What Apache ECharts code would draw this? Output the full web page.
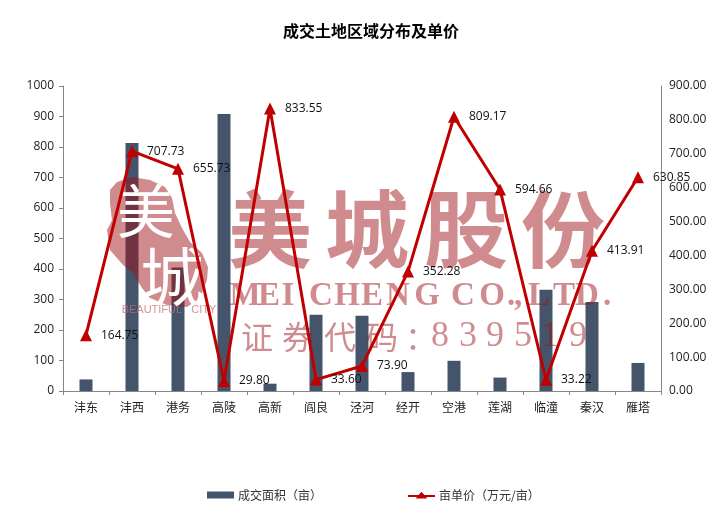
<!DOCTYPE html>
<html><head><meta charset="utf-8">
<style>html,body{margin:0;padding:0;background:#fff}#c{width:713px;height:524px}</style>
<script src="https://cdn.jsdelivr.net/npm/echarts@6/dist/echarts.min.js"></script>
</head><body><div id="c"></div>
<script>
const categories = ['沣东','沣西','港务','高陵','高新','阎良','泾河','经开','空港','莲湖','临潼','秦汉','雁塔'];
const areaValues = [38,813,405,908,24,250,247,62,99,44,332,292,92];
const priceValues = [164.75,707.73,655.73,29.80,833.55,33.60,73.90,352.28,809.17,594.66,33.22,413.91,630.85];
const FONT = '"Open Sans","Noto Sans CJK SC",sans-serif';
const CJK = '"Noto Sans CJK SC",sans-serif';
const WM = 'rgba(158,19,25,0.49)';
const Z = 3;

function wmText(text,x,y,size,opts){
  return Object.assign({type:'text',x:x,y:y,z:Z,silent:true,
    style:{text:text,fill:WM,font:(opts&&opts.weight||'normal')+' '+size+'px '+(opts&&opts.family||'"Noto Sans CJK SC"'),
      align:'center',verticalAlign:'middle'}},opts&&opts.el||{});
}
const SERIF='"Liberation Serif",serif';
const wmHead=[['美',270],['城',367],['股',466],['份',563]].map(a=>wmText(a[0],a[1],229,84,{weight:'bold'}));
const wmLatin=[...'MEICHENG CO.,LTD.'];
const wmLatinX=[245,269,288,321,347,372,398,427,445,463,492,511,518,539,564,587,607];
const wmLatinEls=wmLatin.map((c,i)=>wmText(c,wmLatinX[i],296,33,{weight:'bold',family:SERIF}));
const wmCode=[['证',257,32],['券',298,32],['代',340,32],['码',382,32],['：',421,32]].map(a=>wmText(a[0],a[1],337,a[2]));
const wmDigits=[['8',440],['3',468],['9',495],['5',523],['1',550],['9',578]].map(a=>wmText(a[0],a[1],337,36,{family:SERIF}));
const blob={type:'polygon',z:Z,silent:true,shape:{points:[
 [110,190],[117,182],[132,177],[150,180],[165,187],[172,198],[175,213],[182,228],[190,242],[202,253],[208,267],[207,280],[200,298],[187,307],[167,305],[150,298],[142,288],[133,273],[123,265],[110,250],[107,230],[112,220],[110,203]
]},style:{fill:WM}};
const logoChars=[
 wmText('美',146,211,58,{el:{z:Z+1}}),
 wmText('城',172,277,64,{el:{z:Z+1}})
];
logoChars.forEach(e=>e.style.fill='#fff');
const logoSub=wmText('BEAUTIFUL   CITY',169,310,11,{family:'"Liberation Sans",sans-serif',el:{z:Z+1}});
logoSub.style.fill='rgba(200,110,115,0.75)';

const axisLine={show:true,lineStyle:{color:'#868686',width:1}};
const chart=echarts.init(document.getElementById('c'),null,{renderer:'canvas'});
chart.setOption({
  animation:false,
  backgroundColor:'#fff',
  textStyle:{fontFamily:FONT},
  title:{text:'成交土地区域分布及单价',left:366,top:18,textAlign:'center',
    textStyle:{fontSize:16,fontWeight:'bold',color:'#000',fontFamily:CJK}},
  grid:{left:63,right:52,top:86,bottom:133,containLabel:false},
  legend:{left:202,top:484,itemWidth:27,itemHeight:7,itemGap:86,
    textStyle:{fontSize:12,color:'#333',fontFamily:CJK,padding:[0,0,0,-1]},
    data:[{name:'成交面积（亩）',icon:'rect'},
          {name:'亩单价（万元/亩）',icon:'path://M0,3.5H11L14,0L17,3.5H28V5.5H18.7L20,7H8L9.3,5.5H0Z',
           itemStyle:{color:'#C00000'}}]},
  xAxis:{type:'category',data:categories,axisLine:axisLine,
    axisTick:{show:true,length:4,alignWithLabel:false,lineStyle:{color:'#868686'}},
    axisLabel:{fontSize:12,color:'#222',margin:10,interval:0,fontFamily:CJK}},
  yAxis:[
    {type:'value',min:0,max:1000,interval:100,axisLine:axisLine,
     axisTick:{show:true,length:4,lineStyle:{color:'#868686'}},
     splitLine:{show:false},axisLabel:{fontSize:12,color:'#222',margin:9,padding:[2,0,0,0],formatter:v=>String(v)}},
    {type:'value',min:0,max:900,interval:100,position:'right',axisLine:axisLine,
     axisTick:{show:false},splitLine:{show:false},
     axisLabel:{fontSize:12,color:'#222',margin:8,padding:[2,0,0,0],formatter:v=>v.toFixed(2)}}
  ],
  series:[
    {name:'成交面积（亩）',type:'bar',z:1,yAxisIndex:0,data:areaValues,barWidth:13,
     itemStyle:{color:'#44546A'}},
    {name:'亩单价（万元/亩）',type:'line',z:5,yAxisIndex:1,data:priceValues,
     lineStyle:{color:'#C00000',width:3},itemStyle:{color:'#C00000'},
     symbol:'triangle',symbolSize:12,showAllSymbol:true,
     label:{show:true,position:'right',distance:9,fontSize:12,color:'#111',fontFamily:FONT,
       formatter:p=>p.value.toFixed(2)}}
  ],
  graphic:{elements:[blob,...logoChars,logoSub,...wmHead,...wmLatinEls,...wmCode,...wmDigits]}
});
</script></body></html>
